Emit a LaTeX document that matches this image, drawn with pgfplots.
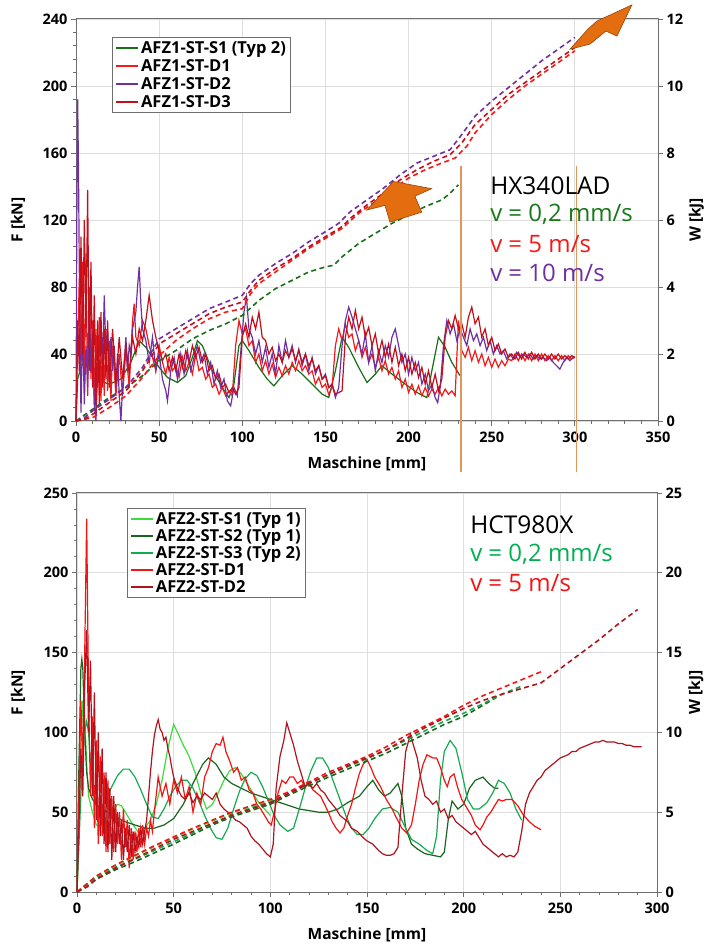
\documentclass[border=0pt]{standalone}
\usepackage{fontspec}
\setmainfont{Open Sans}
\usepackage{pgfplots}
\pgfplotsset{compat=1.18}

\definecolor{tS1}{RGB}{25,110,25}
\definecolor{tD1}{RGB}{245,25,25}
\definecolor{tD2}{RGB}{112,48,160}
\definecolor{tD3}{RGB}{195,15,25}
\definecolor{bS1}{RGB}{60,220,60}
\definecolor{bS2}{RGB}{25,100,30}
\definecolor{bS3}{RGB}{20,170,80}
\definecolor{bD1}{RGB}{245,20,20}
\definecolor{bD2}{RGB}{175,20,30}
\definecolor{orline}{RGB}{225,150,90}
\definecolor{orfill}{RGB}{228,110,15}
\definecolor{ordraw}{RGB}{150,70,10}
\definecolor{gridc}{RGB}{222,222,222}
\definecolor{axc}{RGB}{110,110,110}
\definecolor{txgreen}{RGB}{25,120,25}
\definecolor{txgreenb}{RGB}{0,176,80}

\pgfplotsset{
  base/.style={
    scale only axis, clip=false,
    tick align=outside,
    major tick length=5pt, minor tick length=3pt,
    every tick/.append style={axc, line width=0.8pt},
    axis line style={axc, line width=1pt},
    ticklabel style={font=\bfseries\fontsize{14.5}{16}\selectfont},
    /pgf/number format/assume math mode=true,
    label style={font=\bfseries\fontsize{15.5}{17}\selectfont},
  },
  sld/.style={line width=1.2pt},
  dsh/.style={line width=1.6pt, dash pattern=on 5pt off 3.5pt, forget plot},
  legend image code/.code={\draw[#1, solid, line width=1.6pt] (0pt,0pt) -- (22pt,0pt);},
  lgd/.style={legend style={anchor=north west, draw=axc, line width=0.8pt, fill=white,
    font=\bfseries\fontsize{16.5}{18}\selectfont, inner xsep=3pt, inner ysep=2pt,
    cells={anchor=west}, row sep=0.5pt}},
}

\begin{document}
\begin{tikzpicture}
\useasboundingbox (0pt,0pt) rectangle (713pt,944pt);

% ================= TOP PANEL =================
\begin{axis}[base, lgd, at={(76pt,523pt)}, anchor=south west, width=582pt, height=402pt,
  xmin=0, xmax=350, ymin=0, ymax=240,
  xtick={0,50,...,350}, ytick={0,40,...,240},
  minor x tick num=4, minor y tick num=4,
  xtick pos=bottom, ytick pos=left,
  grid=major, major grid style={gridc, line width=0.8pt},
  xticklabel style={yshift=-2pt},
  xlabel={Maschine [mm]}, ylabel={F [kN]},
  xlabel style={at={(axis description cs:0.5,0)}, anchor=center, yshift=-43pt},
  ylabel style={at={(axis description cs:-0.0997,0.5)}, anchor=center},
  legend style={at={(0.062,0.955)}},
]
\addplot[sld, tS1] coordinates {(0,0)(1,25)(3,32)(6,38)(9,30)(14,24)(20,22)(27,25)(33,35)(38,48)(42,44)(50,32)(55,26)(61,23)(66,27)(70,38)(73,48)(76,45)(82,30)(88,20)(92,14)(95,22)(98,45)(100,48)(104,42)(110,32)(115,25)(119,21)(124,27)(130,33)(136,28)(142,22)(148,16)(152,14)(156,30)(160,50)(164,44)(170,32)(175,23)(180,28)(184,33)(190,28)(198,22)(205,17)(211,14)(214,30)(218,50)(222,44)(226,35)(231,27)};
\addlegendentry{AFZ1-ST-S1 (Typ 2)}
\addplot[sld, tD1] coordinates {(0,0)(1,45)(2,85)(3,30)(4,95)(5,20)(6,100)(7,15)(8,80)(9,25)(10,60)(11,10)(12,55)(13,20)(14,62)(15,12)(16,50)(17,15)(18,55)(19,18)(20,48)(21,12)(22,45)(24,15)(26,40)(28,15)(30,42)(32,20)(34,60)(35,70)(36,50)(38,45)(40,60)(42,55)(44,45)(46,38)(48,30)(50,45)(52,35)(54,28)(56,38)(58,30)(60,33)(62,26)(64,38)(66,30)(68,35)(70,28)(72,40)(74,30)(76,32)(78,25)(80,28)(82,20)(84,22)(86,16)(88,20)(90,15)(92,18)(94,15)(96,45)(98,60)(100,52)(102,55)(104,45)(106,48)(108,35)(110,40)(112,30)(114,36)(116,28)(118,34)(120,26)(122,32)(124,27)(126,33)(128,28)(130,35)(132,30)(134,36)(136,30)(138,33)(140,28)(142,30)(144,22)(146,26)(148,20)(150,22)(152,16)(154,20)(156,45)(158,55)(160,48)(162,58)(164,50)(166,52)(168,42)(170,48)(172,38)(174,44)(176,35)(178,40)(180,32)(182,38)(184,30)(186,36)(188,28)(190,32)(192,25)(194,30)(196,20)(198,25)(200,17)(202,22)(204,16)(206,21)(208,15)(210,20)(212,15)(214,19)(216,16)(218,20)(220,15)(222,19)(224,16)(226,18)(228,15)(230,60)(232,42)(234,38)(236,44)(238,36)(240,42)(242,35)(244,40)(246,33)(248,38)(250,32)(252,37)(254,32)(256,36)(258,33)(260,37)(262,36)(264,40)(266,36)(268,40)(270,36)(272,40)(274,36)(276,40)(278,36)(280,40)(282,36)(284,39)(286,36)(288,39)(290,36)(292,39)(294,36)(296,39)(298,37)(300,38)};
\addlegendentry{AFZ1-ST-D1}
\addplot[sld, tD2] coordinates {(0,0)(0.5,120)(1,192)(1.5,150)(2,90)(2.5,40)(3,5)(4,60)(5,10)(6,45)(7,20)(8,70)(9,30)(10,50)(11,10)(12,0)(13,30)(14,40)(15,60)(16,35)(17,75)(18,40)(19,55)(20,25)(21,50)(22,30)(23,45)(24,20)(25,40)(26,15)(27,0)(28,20)(29,35)(30,50)(31,30)(32,45)(33,40)(34,55)(36,65)(37,80)(38,92)(39,70)(40,55)(42,48)(44,35)(46,50)(48,30)(50,40)(52,25)(54,18)(55,12)(57,30)(59,38)(61,25)(63,40)(65,28)(67,42)(69,30)(71,38)(73,45)(75,35)(77,40)(79,28)(81,35)(83,22)(85,30)(87,20)(89,25)(91,12)(93,9)(95,20)(97,15)(99,40)(101,65)(102.5,74)(104,55)(106,50)(108,40)(110,48)(112,35)(114,44)(116,32)(118,40)(120,28)(122,45)(124,35)(126,48)(128,38)(130,45)(132,35)(134,43)(136,33)(138,40)(140,30)(142,38)(144,28)(146,33)(148,25)(150,28)(152,20)(154,22)(156,14)(158,20)(160,45)(162,60)(164,68)(166,62)(168,55)(170,48)(172,40)(174,52)(176,35)(178,45)(180,30)(182,42)(184,35)(186,45)(188,38)(190,50)(192,55)(194,45)(196,35)(198,40)(200,28)(202,38)(204,30)(206,35)(208,22)(210,28)(212,18)(214,22)(216,14)(217.5,11)(219,20)(221,45)(223,60)(225,52)(227,58)(229,48)(231,55)(233,50)(235,45)(237,55)(239,48)(241,52)(243,45)(245,50)(247,42)(249,48)(251,40)(253,45)(255,40)(257,42)(259,37)(261,40)(263,37)(265,41)(267,38)(269,40)(271,38)(273,40)(275,37)(277,39)(279,37)(281,38)(283,36)(285,38)(287,35)(289,33)(291,31)(293,35)(295,38)(297,36)(299,38)(300,38)};
\addlegendentry{AFZ1-ST-D2}
\addplot[sld, tD3] coordinates {(0,0)(1,60)(2,30)(3,110)(4,40)(5,120)(6,50)(7,138)(8,30)(9,95)(10,20)(11,75)(12,5)(13,60)(14,10)(15,65)(16,20)(17,55)(18,25)(19,60)(20,20)(22,55)(24,22)(26,50)(28,25)(30,45)(32,28)(34,50)(36,40)(38,55)(40,48)(42,60)(44,75)(46,60)(48,50)(50,42)(52,36)(54,40)(56,30)(58,38)(60,30)(62,40)(64,32)(66,42)(68,35)(70,45)(72,38)(74,44)(76,35)(78,40)(80,30)(82,33)(84,25)(86,28)(88,20)(90,22)(92,17)(94,20)(96,16)(98,20)(100,50)(102,58)(104,50)(106,62)(108,55)(110,65)(112,50)(114,48)(116,40)(118,44)(120,36)(122,40)(124,35)(126,42)(128,38)(130,43)(132,36)(134,42)(136,35)(138,40)(140,33)(142,37)(144,30)(146,33)(148,25)(150,27)(152,20)(154,22)(156,16)(158,17)(160,18)(162,50)(164,62)(166,55)(168,66)(170,55)(172,62)(174,50)(176,56)(178,45)(180,52)(182,40)(184,48)(186,38)(188,46)(190,35)(192,44)(194,33)(196,40)(198,30)(200,38)(202,28)(204,35)(206,26)(208,32)(210,22)(212,30)(214,20)(216,28)(218,18)(220,25)(222,50)(224,60)(226,55)(228,63)(230,55)(232,58)(234,50)(236,62)(238,68)(240,58)(242,62)(244,50)(246,55)(248,45)(250,50)(252,42)(254,46)(256,40)(258,43)(260,38)(262,40)(264,37)(266,41)(268,37)(270,41)(272,37)(274,41)(276,37)(278,40)(280,37)(282,40)(284,37)(286,40)(288,37)(290,40)(292,37)(294,39)(296,37)(298,39)(300,38)};
\addlegendentry{AFZ1-ST-D3}
\end{axis}

\begin{axis}[base, at={(76pt,523pt)}, anchor=south west, width=582pt, height=402pt,
  xmin=0, xmax=350, ymin=0, ymax=12,
  axis x line=none, axis y line*=right,
  ytick={0,2,...,12},
  ylabel={W [kJ]},
  ylabel style={at={(axis description cs:1.066,0.5)}, anchor=center},
]
\addplot[dsh, tS1] coordinates {(0,0)(10,0.35)(20,0.7)(30,1.0)(40,1.35)(50,1.8)(60,2.1)(70,2.45)(80,2.7)(90,2.9)(100,3.15)(110,3.6)(120,3.95)(130,4.2)(140,4.45)(150,4.6)(155,4.65)(160,4.9)(170,5.3)(180,5.6)(190,5.9)(200,6.15)(210,6.4)(220,6.6)(225,6.8)(230,7.05)};
\addplot[dsh, tD1] coordinates {(0,0)(10,0.1)(20,0.4)(30,0.75)(40,1.3)(50,1.95)(60,2.4)(70,2.75)(80,3.05)(90,3.25)(100,3.35)(105,3.8)(110,4.1)(120,4.45)(130,4.8)(140,5.15)(150,5.45)(160,5.75)(170,6.2)(180,6.55)(190,6.9)(200,7.25)(210,7.5)(220,7.7)(228,7.85)(235,8.2)(240,8.6)(250,9.15)(260,9.6)(270,10.0)(280,10.35)(290,10.7)(300,11.05)};
\addplot[dsh, tD2] coordinates {(0,0)(5,0.1)(10,0.3)(20,0.65)(30,1.0)(40,1.6)(50,2.45)(60,2.75)(70,3.05)(80,3.35)(90,3.55)(100,3.75)(105,4.1)(110,4.35)(120,4.7)(130,5.0)(140,5.35)(150,5.65)(158,5.9)(165,6.25)(175,6.6)(185,6.95)(195,7.35)(205,7.7)(215,7.9)(225,8.1)(232,8.55)(240,9.1)(250,9.55)(260,9.95)(270,10.35)(280,10.75)(290,11.1)(300,11.45)};
\addplot[dsh, tD3] coordinates {(0,0)(5,0.05)(10,0.2)(20,0.55)(30,0.9)(40,1.5)(50,2.3)(60,2.6)(70,2.9)(80,3.2)(90,3.4)(100,3.55)(105,3.9)(110,4.2)(120,4.55)(130,4.85)(140,5.2)(150,5.5)(160,5.8)(165,6.05)(175,6.45)(185,6.8)(195,7.2)(205,7.5)(215,7.75)(225,7.95)(232,8.3)(240,8.85)(250,9.3)(260,9.75)(270,10.1)(280,10.45)(290,10.8)(300,11.15)};
% orange markers
\draw[orline, line width=1.5pt] (axis cs:231.5,-1.525) -- (axis cs:231.5,7.6);
\draw[orline, line width=1.5pt] (axis cs:301,-1.525) -- (axis cs:301,7.6);
\filldraw[fill=orfill, draw=ordraw, line width=0.6pt] (axis cs:190.9,7.15) -- (axis cs:213.9,6.935) -- (axis cs:203.8,6.71) -- (axis cs:207.9,6.235) -- (axis cs:188.8,5.935) -- (axis cs:185.8,6.435) -- (axis cs:174.8,6.295) -- cycle;
\filldraw[fill=orfill, draw=ordraw, line width=0.6pt] (axis cs:334.3,12.42) -- (axis cs:325.3,11.49) -- (axis cs:318.7,11.64) -- (axis cs:309.1,11.25) -- (axis cs:297.1,11.10) -- (axis cs:307.9,11.70) -- (axis cs:313.3,11.94) -- cycle;
\node[anchor=base west, inner sep=0pt, font=\fontsize{24.5}{27}\selectfont] at (axis cs:249,6.76) {HX340LAD};
\node[anchor=base west, inner sep=0pt, font=\fontsize{24}{27}\selectfont, text=txgreen] at (axis cs:249,5.965) {v = 0,2 mm/s};
\node[anchor=base west, inner sep=0pt, font=\fontsize{24}{27}\selectfont, text=tD1] at (axis cs:249,5.02) {v = 5 m/s};
\node[anchor=base west, inner sep=0pt, font=\fontsize{24}{27}\selectfont, text=tD2] at (axis cs:249,4.17) {v = 10 m/s};
\end{axis}

% ================= BOTTOM PANEL =================
\begin{axis}[base, lgd, at={(77pt,52pt)}, anchor=south west, width=580pt, height=399pt,
  xmin=0, xmax=300, ymin=0, ymax=250,
  xtick={0,50,...,300}, ytick={0,50,...,250},
  minor x tick num=4, minor y tick num=4,
  xtick pos=bottom, ytick pos=left,
  grid=major, major grid style={gridc, line width=0.8pt},
  xticklabel style={yshift=-2pt},
  xlabel={Maschine [mm]}, ylabel={F [kN]},
  xlabel style={at={(axis description cs:0.5,0)}, anchor=center, yshift=-43pt},
  ylabel style={at={(axis description cs:-0.1017,0.5)}, anchor=center},
  legend style={at={(0.086,0.962)}, row sep=-0.5pt},
]
\addplot[sld, bS1] coordinates {(0,0)(1,40)(2,90)(3,120)(4,110)(5,80)(6,60)(8,50)(10,42)(12,41)(15,45)(18,50)(21,55)(23,54)(26,48)(29,42)(32,37)(35,40)(38,45)(41,55)(44,70)(47,90)(50,105)(52,100)(55,92)(58,85)(61,75)(64,62)(67,52)(70,55)(73,62)(76,70)(79,76)(82,78)(85,74)(88,68)(91,62)(94,56)(97,52)(100,48)};
\addlegendentry{AFZ2-ST-S1 (Typ 1)}
\addplot[sld, bS2] coordinates {(0,0)(1,80)(2,140)(2.5,146)(3,140)(4,100)(5,75)(6,65)(8,58)(10,55)(13,52)(16,50)(20,47)(25,44)(30,42)(35,40)(40,40)(45,42)(50,46)(55,55)(60,68)(65,80)(68,84)(72,80)(76,72)(80,68)(85,65)(90,62)(95,60)(100,58)(105,56)(110,54)(115,52)(120,51)(125,50)(130,50)(135,52)(140,56)(143,58)(146,60)(150,66)(153,70)(156,64)(159,60)(162,62)(166,68)(168,60)(170,40)(173,30)(176,27)(180,24)(184,23)(188,22)(190,25)(192,45)(194,57)(197,52)(200,55)(203,65)(206,70)(210,72)(213,68)(216,65)(218,65)};
\addlegendentry{AFZ2-ST-S2 (Typ 1)}
\addplot[sld, bS3] coordinates {(0,0)(1,30)(2,60)(3,85)(4,100)(5,107)(6,100)(7,80)(8,65)(10,55)(12,52)(15,58)(18,66)(21,73)(24,77)(27,77)(30,72)(33,64)(36,55)(39,47)(42,46)(45,52)(48,60)(51,66)(54,70)(57,70)(60,65)(63,57)(66,48)(69,40)(72,34)(75,33)(78,40)(81,52)(84,63)(87,71)(90,75)(93,73)(96,66)(99,57)(102,48)(105,42)(109,38)(112,40)(115,52)(118,65)(121,76)(124,84)(127,84)(130,78)(133,68)(136,58)(139,48)(142,40)(145,36)(148,36)(151,40)(154,46)(158,52)(162,53)(166,50)(170,40)(173,33)(177,30)(181,26)(184,24)(186,35)(188,70)(190,88)(193,95)(196,90)(199,75)(202,58)(205,52)(208,52)(212,56)(215,62)(218,70)(221,68)(224,62)(227,52)(230,45)};
\addlegendentry{AFZ2-ST-S3 (Typ 2)}
\addplot[sld, bD1] coordinates {(0,0)(1,60)(2,120)(3,80)(4,150)(5,234)(6,120)(7,60)(8,110)(9,40)(10,95)(11,30)(12,85)(13,35)(14,75)(15,25)(16,70)(17,30)(18,60)(19,25)(20,55)(21,30)(22,50)(23,20)(24,52)(25,28)(26,45)(27,15)(28,40)(29,20)(30,38)(31,25)(32,40)(33,28)(34,42)(35,30)(36,40)(37,35)(38,45)(39,38)(40,50)(42,72)(44,60)(46,68)(48,55)(50,70)(52,62)(54,72)(56,58)(58,66)(60,50)(62,62)(64,55)(66,72)(68,78)(70,88)(72,93)(74,92)(75.5,97)(77,88)(79,82)(81,75)(83,78)(85,70)(87,72)(89,64)(91,62)(93,55)(95,52)(97,48)(99,44)(100.5,42)(102,50)(104,62)(106,70)(108,68)(110,72)(112,72)(114,68)(116,70)(118,66)(120,68)(122,64)(124,62)(126,60)(128,55)(130,50)(132,44)(134,40)(136,37)(138,40)(140,48)(142,55)(144,65)(146,74)(148,80)(150,83)(152,78)(154,72)(157,66)(160,58)(163,52)(165,47)(168,40)(170.5,37)(173,42)(175,55)(177,70)(179,80)(181,86)(184,84)(186,84)(188,78)(190,70)(191.5,66)(193,72)(195,74)(197,65)(199,58)(201.5,53)(204,48)(206,42)(208.5,39)(210,42)(212,47)(214,50)(216,54)(218,58)(220,57)(222,58)(225,58)(228,54)(231,48)(234,44)(237,41)(240,39)};
\addlegendentry{AFZ2-ST-D1}
\addplot[sld, bD2] coordinates {(0,0)(1,40)(2,90)(3,60)(4,130)(5,164)(6,100)(7,145)(8,60)(9,125)(10,45)(11,100)(12,35)(13,90)(14,30)(15,75)(16,25)(17,65)(18,20)(19,60)(20,25)(21,50)(22,30)(23,45)(24,20)(25,40)(26,25)(27,42)(28,22)(29,38)(30,25)(31,35)(32,28)(33,40)(34,30)(35,38)(36,45)(37,60)(38,75)(39,88)(40,98)(41,104)(42,108)(43,102)(44,100)(45,95)(46,97)(47,90)(48,85)(49,78)(50,72)(52,65)(54,60)(56,58)(58,62)(60,56)(62,60)(64,58)(66,62)(68,60)(70,58)(72,62)(74,55)(76,52)(78,50)(80,48)(82,45)(84,44)(86,42)(88,40)(90,35)(92,32)(94,30)(96,27)(98,24)(100,22)(101.5,30)(103,65)(105,85)(107,95)(108.5,106)(110,100)(112,92)(114,82)(116,74)(118,66)(120,68)(122,65)(124,68)(126,64)(128,62)(130,58)(132,55)(134,52)(136,48)(138,46)(140,44)(142,40)(145,38)(148,34)(150,32)(153,30)(156,26)(158,24)(160,23)(162,23)(164,24)(166,28)(168,60)(170,88)(172.5,99)(174,92)(176,84)(178,70)(180,60)(182,58)(184,55)(186,57)(188,50)(190,52)(192,46)(194,48)(196,44)(198,42)(200,40)(202,38)(204,36)(206,38)(208,34)(210,30)(212,28)(214,26)(216,24)(218,22)(220,24)(222,22)(224,23)(226,22)(228,25)(230,38)(232,55)(234,62)(236,66)(238,70)(240,72)(242,76)(244,78)(246,80)(248,82)(250,84)(252,85)(254,86)(256,88)(258,88)(260,90)(262,91)(264,92)(266,93)(268,94)(270,94)(272,95)(274,94)(276,94)(278,94)(280,93)(282,93)(284,92)(286,92)(288,91)(290,91)(292,91)};
\addlegendentry{AFZ2-ST-D2}
\end{axis}

\begin{axis}[base, at={(77pt,52pt)}, anchor=south west, width=580pt, height=399pt,
  xmin=0, xmax=300, ymin=0, ymax=25,
  axis x line=none, axis y line*=right,
  ytick={0,5,...,25},
  ylabel={W [kJ]},
  ylabel style={at={(axis description cs:1.0672,0.5)}, anchor=center},
]
\addplot[dsh, bS1] coordinates {(0,0)(5,0.5)(10,1.0)(20,1.65)(30,2.25)(40,2.85)(50,3.4)(60,3.95)(70,4.45)(80,4.95)(90,5.35)(100,5.75)};
\addplot[dsh, bS2] coordinates {(0,0)(5,0.4)(10,0.8)(20,1.4)(30,1.9)(40,2.45)(50,3.0)(60,3.6)(70,4.2)(80,4.7)(90,5.1)(100,5.5)(110,6.1)(120,6.65)(130,7.2)(140,7.7)(150,8.2)(160,8.7)(170,9.3)(180,9.9)(190,10.5)(200,11.0)(210,11.7)(217,12.2)};
\addplot[dsh, bS3] coordinates {(0,0)(5,0.45)(10,0.9)(20,1.55)(30,2.05)(40,2.6)(50,3.15)(60,3.7)(70,4.3)(80,4.8)(90,5.25)(100,5.65)(110,6.2)(120,6.8)(130,7.35)(140,7.85)(150,8.35)(160,8.9)(170,9.5)(180,10.1)(190,10.7)(200,11.2)(210,11.8)(220,12.4)(230,12.9)};
\addplot[dsh, bD1] coordinates {(0,0)(5,0.5)(10,1.0)(20,1.7)(30,2.3)(40,2.9)(50,3.45)(60,4.0)(70,4.5)(80,5.0)(90,5.4)(100,5.8)(110,6.3)(120,6.9)(130,7.5)(140,8.0)(150,8.5)(160,9.1)(170,9.8)(180,10.4)(190,11.0)(200,11.7)(210,12.3)(220,12.8)(230,13.3)(240,13.8)};
\addplot[dsh, bD2] coordinates {(0,0)(5,0.3)(10,0.8)(20,1.5)(30,2.1)(40,2.7)(50,3.3)(60,3.8)(70,4.3)(80,4.8)(90,5.2)(100,5.6)(110,6.2)(120,6.8)(130,7.35)(140,7.9)(150,8.4)(160,8.9)(170,9.6)(180,10.3)(190,10.9)(200,11.5)(210,12.0)(220,12.4)(230,12.75)(240,13.1)(250,14.0)(260,14.9)(270,15.8)(280,16.8)(290,17.7)};
\node[anchor=base west, inner sep=0pt, font=\fontsize{24.5}{27}\selectfont] at (axis cs:203.3,22.47) {HCT980X};
\node[anchor=base west, inner sep=0pt, font=\fontsize{24}{27}\selectfont, text=txgreenb] at (axis cs:203.3,20.7) {v = 0,2 mm/s};
\node[anchor=base west, inner sep=0pt, font=\fontsize{24}{27}\selectfont, text=bD1] at (axis cs:203.3,18.82) {v = 5 m/s};
\end{axis}
\end{tikzpicture}
\end{document}
